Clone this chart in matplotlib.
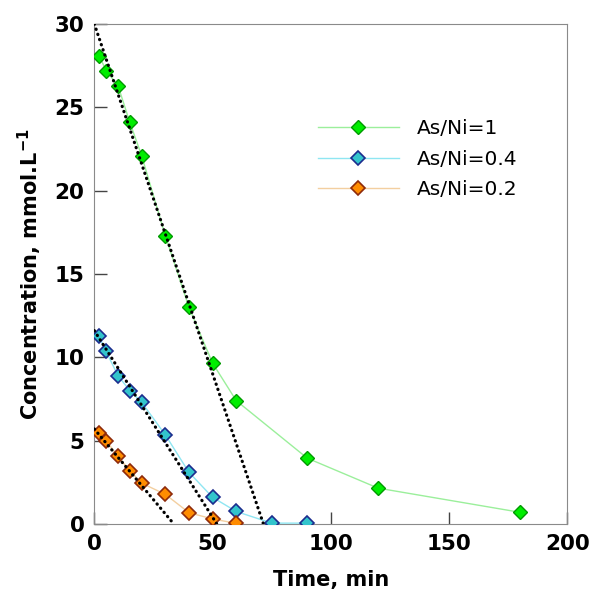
import numpy as np
import matplotlib
matplotlib.use('Agg')
import matplotlib.pyplot as plt

# measured concentrations (mmol/L) vs time (min)
t_1 = [2, 5, 10, 15, 20, 30, 40, 50, 60, 90, 120, 180]
c_1 = [28.1, 27.2, 26.3, 24.1, 22.1, 17.3, 13.0, 9.65, 7.4, 3.95, 2.15, 0.7]
t_04 = [2, 5, 10, 15, 20, 30, 40, 50, 60, 75, 90]
c_04 = [11.25, 10.35, 8.9, 8.0, 7.3, 5.35, 3.1, 1.6, 0.75, 0.05, 0.05]
t_02 = [2, 5, 10, 15, 20, 30, 40, 50, 60]
c_02 = [5.45, 5.0, 4.05, 3.2, 2.45, 1.78, 0.68, 0.3, 0.04]

# linear fits of the initial stage (start, end)
fit_1 = ([0, 71.5], [30.0, 0])
fit_04 = ([0, 51.8], [11.6, 0])
fit_02 = ([0, 33.6], [5.7, 0])

fig = plt.figure(figsize=(5.91, 5.93), dpi=100)
ax = fig.add_axes([0.1596, 0.1164, 0.8004, 0.8432])

for fx, fy in (fit_1, fit_04, fit_02):
    ax.plot(fx, fy, color='black', lw=2.3, linestyle=(0, (0.1, 1.6)),
            dash_capstyle='round', zorder=4)

ax.plot(t_1, c_1, color='#9BEF9B', lw=1, marker='D', ms=7.3,
        mfc='#00EE00', mec='#009A00', mew=1, label='As/Ni=1', zorder=3)
ax.plot(t_04, c_04, color='#8FE6F2', lw=1, marker='D', ms=7.3,
        mfc='#33C4CC', mec='#1B2C8E', mew=1.2, label='As/Ni=0.4', zorder=3)
ax.plot(t_02, c_02, color='#F3CFA0', lw=1, marker='D', ms=7.3,
        mfc='#FF8C00', mec='#8E2A0A', mew=1.2, label='As/Ni=0.2', zorder=3)

ax.set_xlim(0, 200)
ax.set_ylim(0, 30)
ax.set_xticks([0, 50, 100, 150, 200])
ax.set_yticks([0, 5, 10, 15, 20, 25, 30])
ax.tick_params(direction='in', length=9, width=1, color='#444444',
               labelsize=15.5, top=False, right=False, pad=7)
for lab in ax.get_xticklabels() + ax.get_yticklabels():
    lab.set_fontweight('bold')
for s in ax.spines.values():
    s.set_color('#8a8a8a')

ax.set_xlabel('Time, min', fontsize=15, fontweight='bold', labelpad=12)
ax.set_ylabel(r'Concentration, mmol.L$^{\mathbf{-1}}$', fontsize=15,
              fontweight='bold', labelpad=8)

ax.legend(loc='upper left', bbox_to_anchor=(0.473, 0.81), frameon=False,
          fontsize=14.5, handlelength=4.0, handletextpad=0.9,
          labelspacing=0.58, borderpad=0, borderaxespad=0)

fig.savefig('out.png', dpi=100)
